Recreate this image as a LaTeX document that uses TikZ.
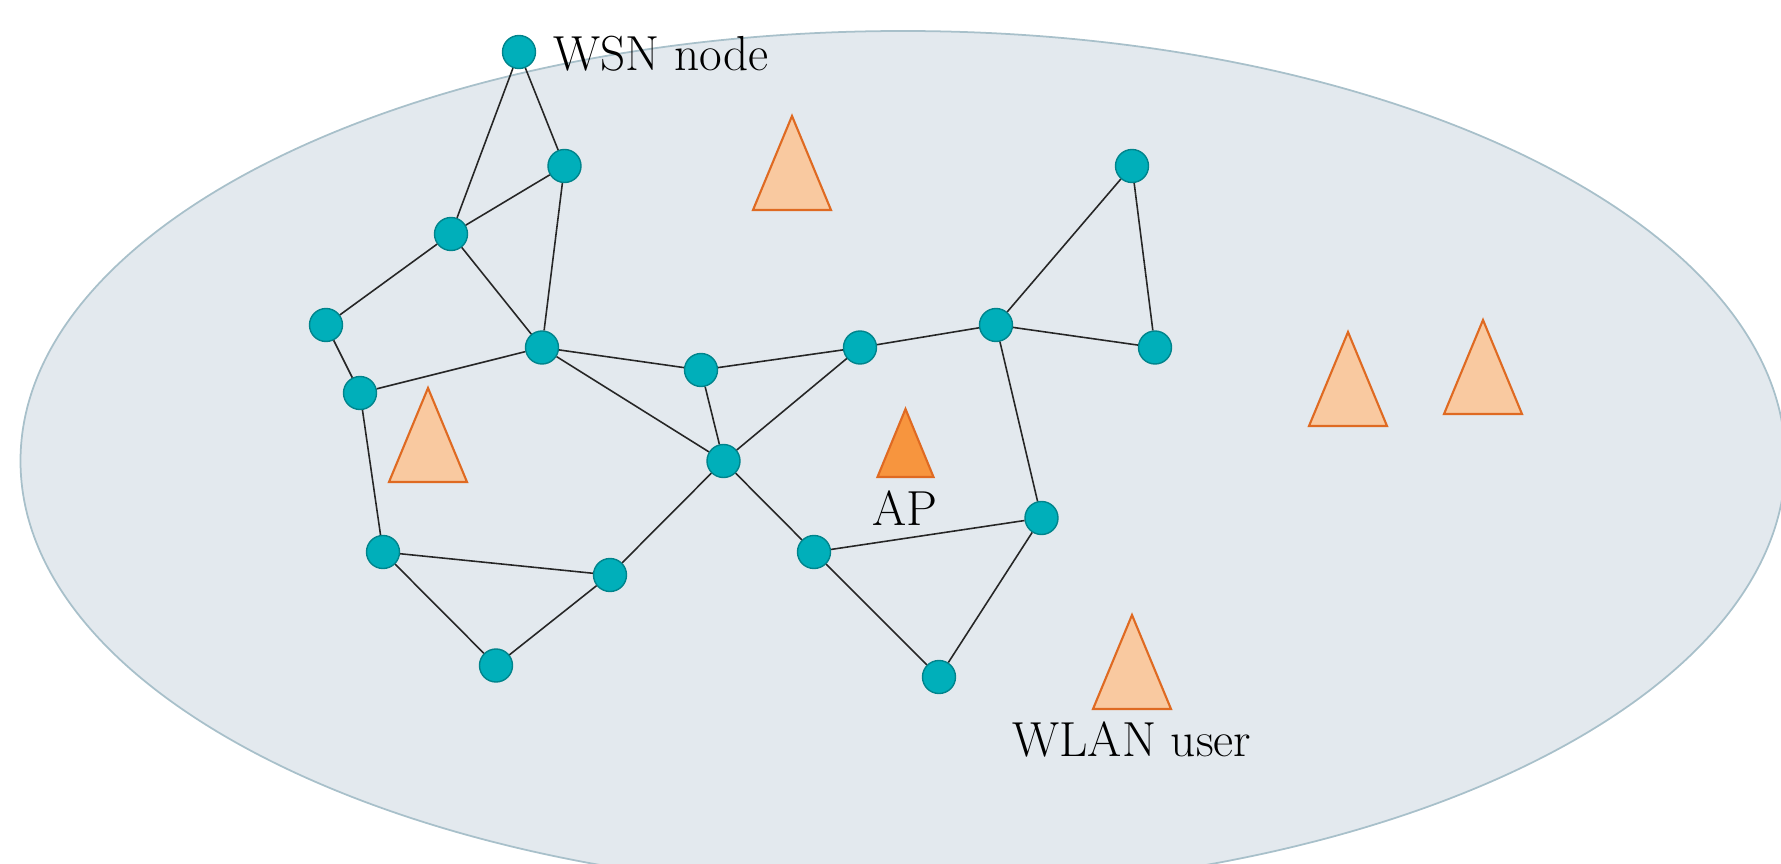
\documentclass[tikz,border=0pt]{standalone}
\definecolor{wsn}{HTML}{00AFBA}
\definecolor{wsnb}{HTML}{00848C}
\definecolor{ell}{HTML}{E3E9EE}
\definecolor{ellb}{HTML}{A8C0CA}
\definecolor{usr}{HTML}{F9C9A0}
\definecolor{usrb}{HTML}{DF6A22}
\definecolor{apc}{HTML}{F7953E}
\font\labelfont=cmr17 at 14pt
\begin{document}
\begin{tikzpicture}[x=0.01cm,y=-0.01cm,
  wsnnode/.style={circle,fill=wsn,draw=wsnb,line width=0.4pt,minimum size=0.33cm,inner sep=0pt},
  link/.style={draw=black!85,line width=0.45pt},
  usertri/.style={fill=usr,draw=usrb,line width=0.6pt},
  aptri/.style={fill=apc,draw=usrb,line width=0.6pt},
  lbl/.style={font=\labelfont,inner sep=0pt}]
\useasboundingbox (0,0) rectangle (1781,864);
\clip (0,0) rectangle (1781,864);
\draw[fill=ell,draw=ellb,line width=0.5pt] (903,461) ellipse [x radius=882.5, y radius=430];

% user triangles
\coordinate (t1) at (792,116);
\coordinate (t2) at (428,388);
\coordinate (t3) at (1348,332);
\coordinate (t4) at (1483,320);
\coordinate (t5) at (1132,615);
\coordinate (ap) at (905.5,409);
\foreach \t in {t1,t2,t3,t4,t5}
  \draw[usertri] (\t) -- ++(39,94) -- ++(-78,0) -- cycle;
\draw[aptri] (ap) -- ++(28,68) -- ++(-56,0) -- cycle;

% WSN nodes
\node[wsnnode] (n1) at (519,52) {};
\node[wsnnode] (n2) at (564.5,166) {};
\node[wsnnode] (n3) at (451,234) {};
\node[wsnnode] (n4) at (326,325) {};
\node[wsnnode] (n5) at (542,347.5) {};
\node[wsnnode] (n6) at (360,393) {};
\node[wsnnode] (n7) at (701,370) {};
\node[wsnnode] (n8) at (860,347.5) {};
\node[wsnnode] (n9) at (996,325) {};
\node[wsnnode] (n10) at (1132,166) {};
\node[wsnnode] (n11) at (1155,347.5) {};
\node[wsnnode] (n12) at (723.5,461) {};
\node[wsnnode] (n13) at (1041.5,518) {};
\node[wsnnode] (n14) at (814,552) {};
\node[wsnnode] (n15) at (383,552) {};
\node[wsnnode] (n16) at (610,575) {};
\node[wsnnode] (n17) at (496,665.5) {};
\node[wsnnode] (n18) at (939,677) {};

\foreach \a/\b in {n1/n2,n1/n3,n2/n3,n2/n5,n3/n5,n3/n4,n4/n6,n6/n5,n5/n7,n5/n12,n7/n12,n7/n8,n8/n12,n8/n9,n9/n10,n10/n11,n9/n11,n9/n13,n12/n16,n12/n14,n14/n13,n14/n18,n18/n13,n6/n15,n15/n16,n15/n17,n17/n16}
  \draw[link] (\a) -- (\b);

% labels
\node[lbl,anchor=base west] (wsnlbl) at (553,71) {WSN node};
\node[lbl,anchor=base] (aplbl) at (905,526) {AP};
\node[lbl,anchor=base] (wlanlbl) at (1132,757) {WLAN user};
\end{tikzpicture}
\end{document}
